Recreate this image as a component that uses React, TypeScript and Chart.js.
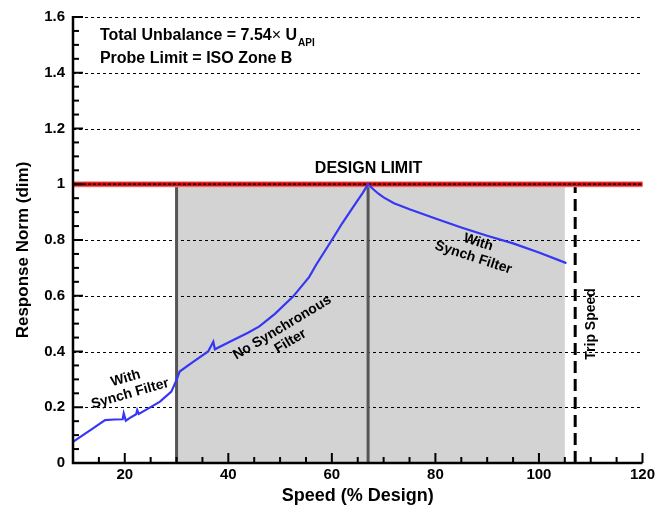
import React, { useEffect, useRef } from "react";
import { Chart, registerables } from "chart.js";

Chart.register(...registerables);

// ---- data ----
const speed = [10, 12, 14, 16.2, 18, 19.6, 19.8, 20.2, 21, 22.2, 22.4, 22.7, 24.5, 26.8, 29, 30, 30.6, 33, 36.1, 37.1, 37.4, 40, 43.8, 46, 49, 52.5, 55.6, 57, 60, 62, 64, 66, 67, 68, 69, 70, 72, 75, 80, 85, 90, 95, 100, 105.3];
const response = [0.076, 0.101, 0.126, 0.154, 0.156, 0.157, 0.178, 0.152, 0.162, 0.175, 0.19, 0.176, 0.195, 0.22, 0.256, 0.298, 0.328, 0.36, 0.4, 0.435, 0.408, 0.432, 0.467, 0.49, 0.535, 0.597, 0.667, 0.712, 0.8, 0.86, 0.915, 0.97, 1.0, 0.982, 0.966, 0.953, 0.932, 0.91, 0.877, 0.845, 0.815, 0.788, 0.755, 0.717];

const xTickValues = [20, 40, 60, 80, 100, 120];
const yTickValues = [0, 0.2, 0.4, 0.6, 0.8, 1.0, 1.2, 1.4, 1.6];
const xMin = 10;
const xMax = 120;
const yMin = 0;
const yMax = 1.6;
const xMinorStep = 5;
const yMinorStep = 0.05;

const shadeStart = 30;
const shadeEnd = 105;
const filterSwitch = 67;
const tripSpeed = 107;
const designLimit = 1.0;

const headerLine1 = "Total Unbalance = 7.54";
const headerTimes = "\u00d7";
const headerU = " U";
const headerSub = "API";
const headerLine2 = "Probe Limit = ISO Zone B";
const designLabel = "DESIGN LIMIT";
const leftLabel = ["With", "Synch Filter"];
const midLabel = ["No Synchronous", "Filter"];
const rightLabel = ["With", "Synch Filter"];
const tripLabel = "Trip Speed";
const xTitle = "Speed (% Design)";
const yTitle = "Response Norm (dim)";

const FONT = '"Liberation Sans", Arial, Helvetica, sans-serif';

function drawBlock(ctx: CanvasRenderingContext2D, lines: string[], cx: number, cy: number, angleDeg: number, size: number, gap: number) {
  ctx.save();
  ctx.translate(cx, cy);
  ctx.rotate((angleDeg * Math.PI) / 180);
  ctx.font = `bold ${size}px ${FONT}`;
  ctx.fillStyle = "#000";
  ctx.textAlign = "center";
  ctx.textBaseline = "middle";
  const n = lines.length;
  lines.forEach((l, i) => {
    ctx.fillText(l, 0, (i - (n - 1) / 2) * gap);
  });
  ctx.restore();
}

const overlay = {
  id: "overlay",
  beforeDatasetsDraw(chart: any) {
    const { ctx, chartArea: a, scales } = chart;
    const x = scales.x;
    const y = scales.y;
    const y0 = y.getPixelForValue(0);
    const y1 = y.getPixelForValue(designLimit);
    ctx.save();
    // shaded region
    ctx.fillStyle = "#d3d3d3";
    const xs = x.getPixelForValue(shadeStart);
    const xe = x.getPixelForValue(shadeEnd);
    ctx.fillRect(xs, y1, xe - xs, y0 - y1);
    // dashed grid
    ctx.strokeStyle = "#000";
    ctx.lineWidth = 1;
    ctx.setLineDash([3, 3]);
    yTickValues.forEach((v) => {
      if (v <= yMin) return;
      const py = Math.round(y.getPixelForValue(v)) + 0.5;
      ctx.beginPath();
      ctx.moveTo(a.left, py);
      ctx.lineTo(a.right, py);
      ctx.stroke();
    });
    // vertical boundaries
    ctx.setLineDash([]);
    ctx.strokeStyle = "#555";
    ctx.lineWidth = 3;
    [shadeStart, filterSwitch].forEach((v) => {
      const px = x.getPixelForValue(v);
      ctx.beginPath();
      ctx.moveTo(px, y0);
      ctx.lineTo(px, y1);
      ctx.stroke();
    });
    // trip speed
    ctx.strokeStyle = "#000";
    ctx.lineWidth = 3;
    ctx.setLineDash([12, 6]);
    const pt = x.getPixelForValue(tripSpeed);
    ctx.beginPath();
    ctx.moveTo(pt, y0);
    ctx.lineTo(pt, y1);
    ctx.stroke();
    // design limit
    ctx.setLineDash([]);
    ctx.strokeStyle = "#f08a8a";
    ctx.lineWidth = 6;
    ctx.beginPath();
    ctx.moveTo(a.left, y1);
    ctx.lineTo(a.right, y1);
    ctx.stroke();
    ctx.strokeStyle = "#dd0a0a";
    ctx.lineWidth = 4;
    ctx.beginPath();
    ctx.moveTo(a.left, y1);
    ctx.lineTo(a.right, y1);
    ctx.stroke();
    ctx.strokeStyle = "#000";
    ctx.lineWidth = 1.5;
    ctx.setLineDash([3, 2]);
    ctx.beginPath();
    ctx.moveTo(a.left, y1);
    ctx.lineTo(a.right, y1);
    ctx.stroke();
    ctx.restore();
  },
  afterDatasetsDraw(chart: any) {
    const { ctx, chartArea: a, scales } = chart;
    const x = scales.x;
    const y = scales.y;
    ctx.save();
    // axes
    ctx.strokeStyle = "#000";
    ctx.lineWidth = 2.5;
    ctx.setLineDash([]);
    ctx.beginPath();
    ctx.moveTo(a.left, a.top - 1);
    ctx.lineTo(a.left, a.bottom);
    ctx.lineTo(a.right, a.bottom);
    ctx.stroke();
    // ticks
    ctx.lineWidth = 2;
    const nY = Math.round((yMax - yMin) / yMinorStep);
    for (let i = 0; i <= nY; i++) {
      const v = yMin + i * yMinorStep;
      const major = i % 4 === 0;
      const py = y.getPixelForValue(v);
      ctx.beginPath();
      ctx.moveTo(a.left, py);
      ctx.lineTo(a.left + (major ? 10 : 6), py);
      ctx.stroke();
    }
    const nX = Math.round((xMax - xMin) / xMinorStep);
    for (let i = 1; i <= nX; i++) {
      const v = xMin + i * xMinorStep;
      const major = v % 20 === 0;
      const px = x.getPixelForValue(v);
      ctx.beginPath();
      ctx.moveTo(px, a.bottom);
      ctx.lineTo(px, a.bottom - (major ? 10 : 6));
      ctx.stroke();
    }
    // header text
    ctx.fillStyle = "#000";
    ctx.textBaseline = "alphabetic";
    ctx.textAlign = "left";
    let hx = x.getPixelForValue(15.2);
    const hy1 = y.getPixelForValue(1.5175);
    const hy2 = y.getPixelForValue(1.435);
    ctx.font = `bold 16px ${FONT}`;
    ctx.fillText(headerLine1, hx, hy1);
    const startX = hx;
    hx += ctx.measureText(headerLine1).width;
    ctx.font = `16px ${FONT}`;
    ctx.fillText(headerTimes, hx, hy1);
    hx += ctx.measureText(headerTimes).width;
    ctx.font = `bold 16px ${FONT}`;
    ctx.fillText(headerU, hx, hy1);
    hx += ctx.measureText(headerU).width + 1;
    ctx.font = `bold 10px ${FONT}`;
    ctx.fillText(headerSub, hx, hy1 + 6);
    ctx.font = `bold 16px ${FONT}`;
    ctx.fillText(headerLine2, startX, hy2);
    // design limit label
    ctx.textAlign = "center";
    ctx.fillText(designLabel, x.getPixelForValue(67.1), y.getPixelForValue(1.04));
    // rotated labels
    drawBlock(ctx, leftLabel, x.getPixelForValue(20.6), y.getPixelForValue(0.276), -16, 14, 16);
    drawBlock(ctx, midLabel, x.getPixelForValue(51.2), y.getPixelForValue(0.461), -31, 14, 16);
    drawBlock(ctx, rightLabel, x.getPixelForValue(87.8), y.getPixelForValue(0.764), 18, 14, 16);
    drawBlock(ctx, [tripLabel], x.getPixelForValue(110), y.getPixelForValue(0.499), -90, 14, 16);
    // axis titles
    drawBlock(ctx, [xTitle], (a.left + a.right) / 2, a.bottom + 33, 0, 18, 18);
    drawBlock(ctx, [yTitle], 23, (a.top + a.bottom) / 2 + 10, -90, 17, 17);
    ctx.restore();
  },
};

export default function App() {
  const ref = useRef<HTMLCanvasElement | null>(null);
  useEffect(() => {
    if (!ref.current) return;
    const chart = new Chart(ref.current, {
      type: "line",
      data: {
        datasets: [
          {
            data: speed.map((s, i) => ({ x: s, y: response[i] })),
            borderColor: "#3636f5",
            borderWidth: 2.2,
            pointRadius: 0,
            tension: 0,
            fill: false,
          },
        ],
      },
      options: {
        responsive: false,
        animation: false,
        layout: { padding: { left: 0, right: 15, top: 17, bottom: 0 } },
        plugins: { legend: { display: false }, tooltip: { enabled: false } },
        scales: {
          x: {
            type: "linear",
            min: xMin,
            max: xMax,
            grid: { display: false, drawTicks: false },
            border: { display: false },
            afterBuildTicks: (s: any) => {
              s.ticks = xTickValues.map((v) => ({ value: v }));
            },
            afterFit: (s: any) => {
              s.height = 45;
            },
            ticks: {
              padding: 3,
              autoSkip: false,
              maxRotation: 0,
              color: "#000",
              font: { family: FONT, size: 15, weight: "bold" },
              callback: (v: any) => String(v),
            },
          },
          y: {
            type: "linear",
            min: yMin,
            max: yMax,
            grid: { display: false, drawTicks: false },
            border: { display: false },
            afterBuildTicks: (s: any) => {
              s.ticks = yTickValues.map((v) => ({ value: v }));
            },
            afterFit: (s: any) => {
              s.width = 73;
            },
            ticks: {
              padding: 8,
              color: "#000",
              font: { family: FONT, size: 15, weight: "bold" },
              callback: (v: any) => String(Number(Number(v).toFixed(1))),
            },
          },
        },
      },
      plugins: [overlay],
    } as any);
    return () => chart.destroy();
  }, []);
  return (
    <div style={{ position: "absolute", left: 0, top: 0, width: 658, height: 508, background: "#fff" }}>
      <canvas ref={ref} width={658} height={508} />
    </div>
  );
}
